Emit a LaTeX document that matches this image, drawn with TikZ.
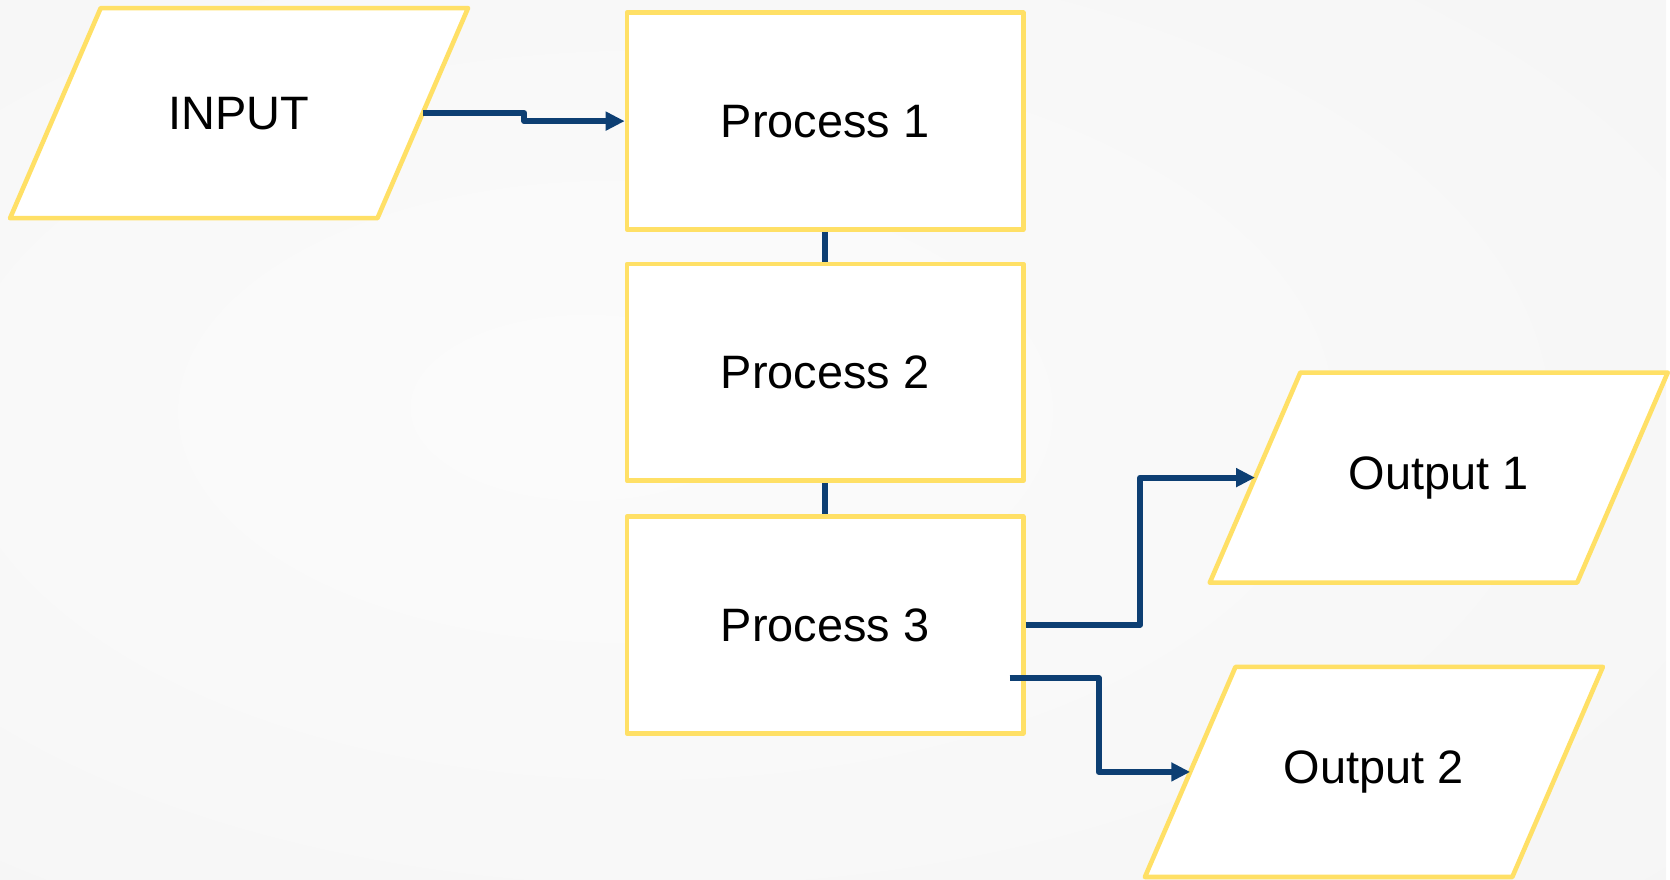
\documentclass[tikz,border=0pt]{standalone}
\usepackage{fontspec}
\setmainfont{Liberation Sans}
\usetikzlibrary{arrows.meta,calc}
\definecolor{boxyellow}{HTML}{FFE066}
\definecolor{connblue}{HTML}{0D3F73}
\pgfdeclareradialshading{bgshade}{\pgfpoint{-8bp}{2bp}}{color(0bp)=(white!98.5!black); color(20bp)=(white!97.5!black); color(72bp)=(white!94!black)}
\pgfdeclarelayer{back}
\pgfdeclarelayer{mid}
\pgfsetlayers{back,mid,main}
\newcommand\iopara[1]{%
  \begin{pgfonlayer}{mid}
  \draw[ioline] ($(#1.north west)+(45.4,0)$) -- ($(#1.north east)+(45.4,0)$)
    -- ($(#1.south east)+(-45.4,0)$) -- ($(#1.south west)+(-45.4,0)$) -- cycle;
  \end{pgfonlayer}}
\begin{document}
\begin{tikzpicture}[x=0.5pt,y=-0.5pt,
  lbl/.style={font=\fontsize{23.5}{28}\selectfont},
  procbox/.style={lbl,rectangle,draw=boxyellow,fill=white,line width=2.3pt,line join=round,
    minimum width=198.6pt,minimum height=108.6pt,inner sep=0pt},
  iobox/.style={lbl,rectangle,minimum width=183.7pt,minimum height=104.9pt,inner sep=0pt},
  ioline/.style={draw=boxyellow,fill=white,line width=2.3pt,line join=round},
  conn/.style={draw=connblue,line width=3pt,line join=round},
  arr/.style={conn,-{Triangle[length=9.5pt,width=9pt]}}]
\begin{pgfonlayer}{back}
\shade[shading=bgshade] (0,0) rectangle (1670,882);
\end{pgfonlayer}
\node[iobox] (in) at (239.6,113.4) {INPUT};
\iopara{in}
\node[procbox] (p1) at (827,121.4) {Process 1};
\node[procbox] (p2) at (827,373.2) {Process 2};
\node[procbox] (p3) at (827,626.3) {Process 3};
\node[iobox] (o1) at (1442,478.7) {Output 1};
\iopara{o1}
\node[iobox] (o2) at (1377,773.7) {Output 2};
\iopara{o2}
\coordinate (m1) at (525.5,0);
\coordinate (m2) at (1142.7,0);
\coordinate (m3) at (1101.2,0);
\coordinate (s2) at ($(p3.east)+(-16,53.2)$);
\draw[arr] (in.east) -- (in.east -| m1) |- (p1.west);
\draw[conn] (p1.south) -- (p2.north);
\draw[conn] (p2.south) -- (p3.north);
\draw[arr] (p3.east) -- (p3.east -| m2) |- (o1.west);
\draw[arr] (s2) -- (s2 -| m3) |- (o2.west);
\end{tikzpicture}
\end{document}
